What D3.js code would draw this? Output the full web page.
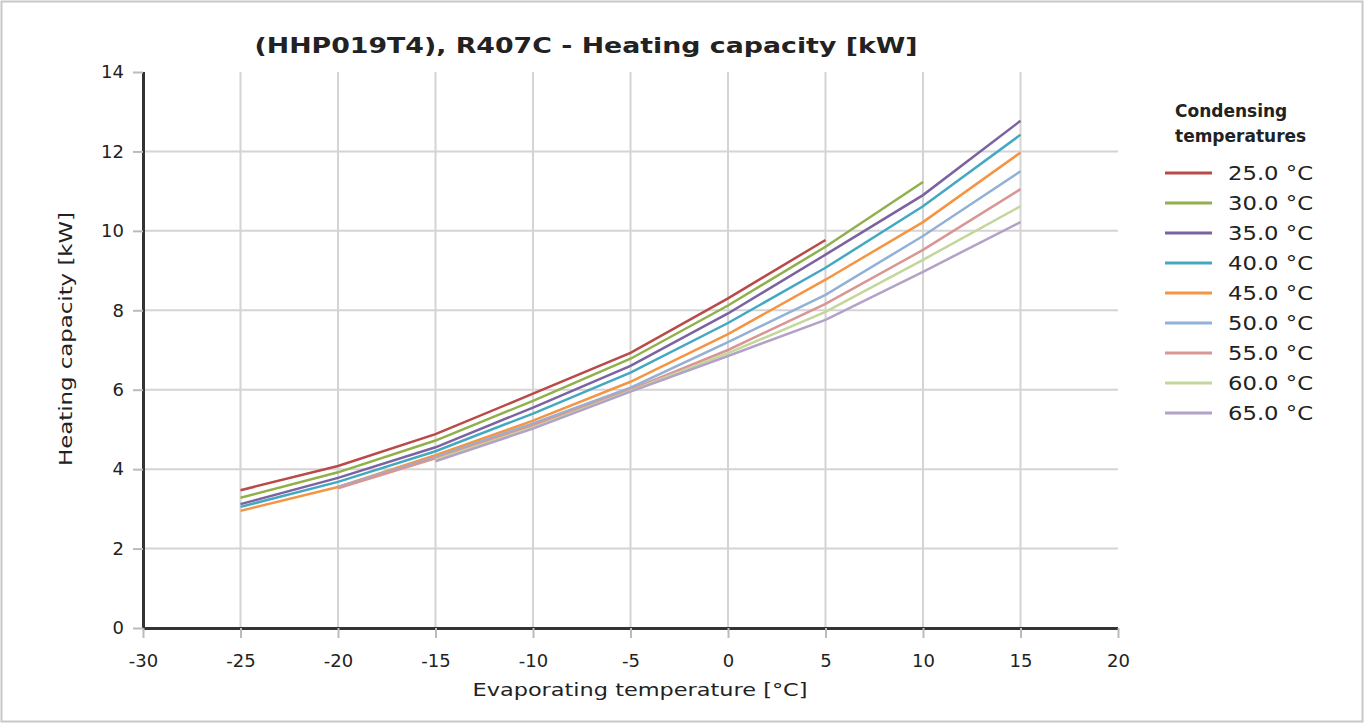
<!DOCTYPE html>
<html>
<head>
<meta charset="utf-8">
<script src="https://cdn.jsdelivr.net/npm/d3@7"></script>
<style>
  body { margin: 0; background: #fff; }
  svg { display: block; }
  text { font-family: "DejaVu Sans", Verdana, sans-serif; fill: #222; }
</style>
</head>
<body>
<svg id="chart" width="1365" height="724"></svg>
<script>
const title = "(HHP019T4), R407C - Heating capacity [kW]";
const xTitle = "Evaporating temperature [°C]";
const yTitle = "Heating capacity [kW]";
const legendTitle = ["Condensing", "temperatures"];
const xTicks = [-30, -25, -20, -15, -10, -5, 0, 5, 10, 15, 20];
const yTicks = [0, 2, 4, 6, 8, 10, 12, 14];
const seriesNames = ["25.0 °C", "30.0 °C", "35.0 °C", "40.0 °C", "45.0 °C", "50.0 °C", "55.0 °C", "60.0 °C", "65.0 °C"];
const colors = ["#b94a48", "#8fb04a", "#7b62a0", "#44a8c2", "#f59544", "#93b1d6", "#d99694", "#c3d69b", "#b3a2c7"];
const evap = [-25, -20, -15, -10, -5, 0, 5, 10, 15];
const s25 = [3.47, 4.08, 4.88, 5.9, 6.93, 8.3, 9.77, null, null];
const s30 = [3.28, 3.92, 4.72, 5.72, 6.78, 8.12, 9.6, 11.23, null];
const s35 = [3.12, 3.78, 4.55, 5.55, 6.6, 7.92, 9.4, 10.9, 12.77];
const s40 = [3.05, 3.68, 4.45, 5.4, 6.43, 7.68, 9.07, 10.62, 12.42];
const s45 = [2.95, 3.55, 4.35, 5.22, 6.2, 7.4, 8.77, 10.22, 11.97];
const s50 = [null, 3.55, 4.3, 5.15, 6.05, 7.2, 8.39, 9.87, 11.5];
const s55 = [null, 3.52, 4.27, 5.1, 6.0, 7.0, 8.16, 9.52, 11.05];
const s60 = [null, null, 4.24, 5.05, 5.97, 6.92, 7.96, 9.27, 10.62];
const s65 = [null, null, 4.2, 5.02, 5.95, 6.85, 7.76, 8.97, 10.22];
const seriesValues = [s25, s30, s35, s40, s45, s50, s55, s60, s65];

const svg = d3.select("#chart");
svg.append("rect").attr("x", 1.5).attr("y", 1.5).attr("width", 1361).attr("height", 720)
  .attr("fill", "none").attr("stroke", "#c8c8c8").attr("stroke-width", 2);

const x = d3.scaleLinear().domain([-30, 20]).range([143, 1118]);
const y = d3.scaleLinear().domain([0, 14]).range([628, 72]);
const fmt = d => String(d).replace("\u2212", "-");

// grid
svg.append("g").selectAll("line").data(xTicks.filter(d => d > -30 && d < 20)).join("line")
  .attr("x1", d => x(d)).attr("x2", d => x(d)).attr("y1", y(14)).attr("y2", y(0))
  .attr("stroke", "#d4d4d4").attr("stroke-width", 2);
svg.append("g").selectAll("line").data(yTicks.filter(d => d > 0 && d < 14)).join("line")
  .attr("x1", x(-30)).attr("x2", x(20)).attr("y1", d => y(d)).attr("y2", d => y(d))
  .attr("stroke", "#d4d4d4").attr("stroke-width", 2);

// axes
const xAxis = svg.append("g").attr("transform", `translate(0,${y(0)})`)
  .call(d3.axisBottom(x).tickValues(xTicks).tickSize(10).tickPadding(16).tickFormat(fmt));
const yAxis = svg.append("g").attr("transform", `translate(${x(-30)},0)`)
  .call(d3.axisLeft(y).tickValues(yTicks).tickSize(10).tickPadding(9).tickFormat(fmt));
[xAxis, yAxis].forEach(a => {
  a.select(".domain").attr("stroke", "#333").attr("stroke-width", 3);
  a.selectAll(".tick line").attr("stroke", "#bbb").attr("stroke-width", 2);
  a.selectAll(".tick text").style("font-size", "18px").attr("fill", "#222")
    .style("font-family", "'DejaVu Sans', Verdana, sans-serif");
});
xAxis.select(".domain").attr("d", `M${x(-30)},0.5H${x(20)}`);
yAxis.select(".domain").attr("d", `M0.5,${y(14)}V${y(0)}`);

// lines
const line = d3.line().defined(d => d[1] != null).x(d => x(d[0])).y(d => y(d[1]));
svg.append("g").selectAll("path").data(seriesValues).join("path")
  .attr("d", vals => line(evap.map((e, i) => [e, vals[i]])))
  .attr("fill", "none").attr("stroke", (d, i) => colors[i]).attr("stroke-width", 2.5);

// titles
svg.append("text").attr("x", 586).attr("y", 53).attr("text-anchor", "middle")
  .style("font-size", "22px").style("font-weight", "bold")
  .attr("textLength", 663).attr("lengthAdjust", "spacingAndGlyphs").text(title);
svg.append("text").attr("x", 640).attr("y", 696).attr("text-anchor", "middle")
  .style("font-size", "18px").attr("textLength", 335).attr("lengthAdjust", "spacingAndGlyphs").text(xTitle);
svg.append("text").attr("transform", "translate(72,339) rotate(-90)").attr("text-anchor", "middle")
  .style("font-size", "18px").attr("textLength", 254).attr("lengthAdjust", "spacingAndGlyphs").text(yTitle);

// legend
const lg = svg.append("g");
legendTitle.forEach((t, i) => lg.append("text").attr("x", 1175).attr("y", 117 + i * 25)
  .style("font-size", "17px").style("font-weight", "bold").text(t));
const items = lg.selectAll("g.item").data(seriesNames).join("g").attr("class", "item")
  .attr("transform", (d, i) => `translate(0,${173 + i * 30})`);
items.append("line").attr("x1", 1165).attr("x2", 1212).attr("y1", 0).attr("y2", 0)
  .attr("stroke", (d, i) => colors[i]).attr("stroke-width", 3);
items.append("text").attr("x", 1228).attr("y", 7).style("font-size", "19px")
  .attr("textLength", 85).attr("lengthAdjust", "spacingAndGlyphs").text(d => d);
</script>
</body>
</html>
